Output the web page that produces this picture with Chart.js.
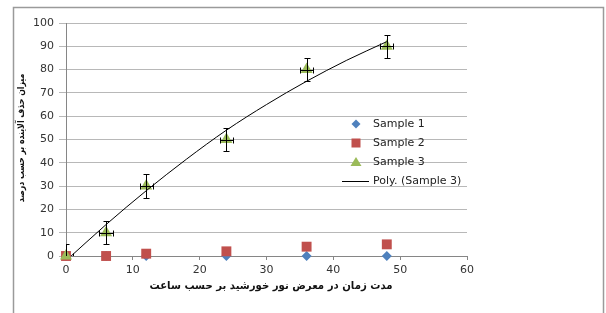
<!DOCTYPE html>
<html>
<head>
<meta charset="utf-8">
<script src="https://cdn.jsdelivr.net/npm/chart.js@4.4.0/dist/chart.umd.min.js"></script>
<style>
  html, body { margin: 0; padding: 0; background: #ffffff; }
  #wrap { width: 606px; height: 313px; position: relative; }
</style>
</head>
<body>
<div id="wrap"><canvas id="c" width="606" height="313"></canvas></div>
<script>
// ---- data ----
const hours      = [0, 6, 12, 24, 36, 48];
const sample1    = [0, 0, 0, 0, 0, 0];
const sample2    = [0, 0, 1, 2, 4, 5];
const sample3    = [0, 10, 30, 50, 80, 90];
const sample3ErrY = [5, 5, 5, 5, 5, 5];
const sample3ErrX = [1, 1, 1, 1, 1, 1];
// polynomial trendline (Sample 3)
const trendX     = [0, 6, 12, 18, 24, 30, 36, 42, 48];
const trendY     = [-2, 13.5, 28, 41.5, 54, 65, 75, 84, 92];
const xTicks     = [0, 10, 20, 30, 40, 50, 60];
const yTicks     = [0, 10, 20, 30, 40, 50, 60, 70, 80, 90, 100];
const seriesNames = ['Sample 1', 'Sample 2', 'Sample 3', 'Poly. (Sample 3)'];
const xTitle = 'مدت زمان در معرض نور خورشید بر حسب ساعت';
const yTitle = 'میزان حذف آلاینده بر حسب درصد';

const toPts = (xs, ys) => xs.map((x, i) => ({ x: x, y: ys[i] }));

const colors = { s1: '#4F81BD', s2: '#C0504D', s3: '#9BBB59' };

const framePlugin = {
  id: 'frame',
  beforeDraw(chart) {
    const ctx = chart.ctx;
    ctx.save();
    ctx.fillStyle = '#ffffff';
    ctx.fillRect(0, 0, chart.width, chart.height);
    ctx.strokeStyle = '#9a9a9a';
    ctx.lineWidth = 1.5;
    ctx.strokeRect(13.5, 7.5, 590, 330);
    ctx.restore();
  }
};

const errorBarPlugin = {
  id: 'errbars',
  afterDatasetsDraw(chart) {
    const ctx = chart.ctx, xs = chart.scales.x, ys = chart.scales.y, a = chart.chartArea;
    ctx.save();
    ctx.beginPath();
    ctx.rect(a.left, a.top, a.right - a.left, a.bottom - a.top);
    ctx.clip();
    ctx.strokeStyle = '#000';
    ctx.lineWidth = 1;
    hours.forEach((h, i) => {
      const px = Math.round(xs.getPixelForValue(h)) + 0.5, py = Math.round(ys.getPixelForValue(sample3[i])) + 0.5;
      const yTop = Math.round(ys.getPixelForValue(sample3[i] + sample3ErrY[i])) + 0.5;
      const yBot = Math.round(ys.getPixelForValue(sample3[i] - sample3ErrY[i])) + 0.5;
      const xL = Math.round(xs.getPixelForValue(h - sample3ErrX[i])) + 0.5;
      const xR = Math.round(xs.getPixelForValue(h + sample3ErrX[i])) + 0.5;
      const cap = 3;
      ctx.beginPath();
      ctx.moveTo(px, yTop); ctx.lineTo(px, yBot);
      ctx.moveTo(px - cap, yTop); ctx.lineTo(px + cap, yTop);
      ctx.moveTo(px - cap, yBot); ctx.lineTo(px + cap, yBot);
      ctx.moveTo(xL, py); ctx.lineTo(xR, py);
      ctx.moveTo(xL, py - cap); ctx.lineTo(xL, py + cap);
      ctx.moveTo(xR, py - cap); ctx.lineTo(xR, py + cap);
      ctx.stroke();
    });
    ctx.restore();
  }
};

const legendAndTitles = {
  id: 'legendTitles',
  afterDraw(chart) {
    const ctx = chart.ctx;
    ctx.save();
    // legend
    const mx = 356, tx = 373, rows = [124, 143, 162, 181];
    ctx.font = '11px "DejaVu Sans"';
    ctx.textBaseline = 'middle';
    ctx.textAlign = 'left';
    // diamond
    ctx.fillStyle = colors.s1;
    ctx.beginPath();
    ctx.moveTo(mx, rows[0] - 4.5); ctx.lineTo(mx + 4.5, rows[0]); ctx.lineTo(mx, rows[0] + 4.5); ctx.lineTo(mx - 4.5, rows[0]);
    ctx.closePath(); ctx.fill();
    // square
    ctx.fillStyle = colors.s2;
    ctx.fillRect(mx - 4.5, rows[1] - 4.5, 9, 9);
    // triangle
    ctx.fillStyle = colors.s3;
    ctx.beginPath();
    ctx.moveTo(mx, rows[2] - 5); ctx.lineTo(mx + 5.5, rows[2] + 4); ctx.lineTo(mx - 5.5, rows[2] + 4);
    ctx.closePath(); ctx.fill();
    // line
    ctx.strokeStyle = '#000'; ctx.lineWidth = 1;
    ctx.beginPath(); ctx.moveTo(342, rows[3] + 0.5); ctx.lineTo(369, rows[3] + 0.5); ctx.stroke();
    ctx.fillStyle = '#222';
    seriesNames.forEach((n, i) => ctx.fillText(n, tx, rows[i]));
    // axis titles
    ctx.fillStyle = '#111';
    ctx.textAlign = 'center';
    ctx.direction = 'rtl';
    ctx.save();
    ctx.translate(271, 286);
    ctx.scale(0.92, 1);
    ctx.font = 'bold 11px "DejaVu Sans"';
    ctx.fillText(xTitle, 0, 0);
    ctx.restore();
    ctx.translate(22, 138);
    ctx.rotate(-Math.PI / 2);
    ctx.scale(0.82, 1);
    ctx.font = 'bold 9.5px "DejaVu Sans"';
    ctx.fillText(yTitle, 0, 0);
    ctx.restore();
  }
};

const pointBase = { showLine: false, clip: false, pointBorderWidth: 0 };

new Chart(document.getElementById('c'), {
  type: 'scatter',
  data: {
    datasets: [
      { label: seriesNames[3], data: toPts(trendX, trendY), showLine: true, borderColor: '#000', borderWidth: 1,
        pointRadius: 0, tension: 0.4, cubicInterpolationMode: 'monotone', order: 0, fill: false },
      Object.assign({ label: seriesNames[2], data: toPts(hours, sample3), pointStyle: 'triangle', pointRadius: 7,
        backgroundColor: colors.s3, borderColor: colors.s3, order: 1 }, pointBase),
      Object.assign({ label: seriesNames[1], data: toPts(hours, sample2), pointStyle: 'rect', pointRadius: 7,
        backgroundColor: colors.s2, borderColor: colors.s2, order: 2 }, pointBase),
      Object.assign({ label: seriesNames[0], data: toPts(hours, sample1), pointStyle: 'rectRot', pointRadius: 5,
        backgroundColor: colors.s1, borderColor: colors.s1, order: 3 }, pointBase)
    ]
  },
  options: {
    responsive: false,
    animation: false,
    events: [],
    layout: { padding: { left: 0, top: 23, right: 139, bottom: 0 } },
    plugins: { legend: { display: false }, tooltip: { enabled: false } },
    scales: {
      x: {
        type: 'linear', min: 0, max: 60,
        afterBuildTicks: s => { s.ticks = xTicks.map(v => ({ value: v })); },
        afterFit: s => { s.height = 57; },
        grid: { drawOnChartArea: false, tickLength: 4, color: '#868686' },
        border: { color: '#868686', width: 1 },
        ticks: { font: { family: 'DejaVu Sans', size: 11 }, color: '#333', padding: 4, maxRotation: 0 }
      },
      y: {
        type: 'linear', min: 0, max: 100,
        afterBuildTicks: s => { s.ticks = yTicks.map(v => ({ value: v })); },
        afterFit: s => { s.width = 66; },
        grid: { color: '#b8b8b8', tickLength: 7 },
        border: { color: '#868686', width: 1 },
        ticks: { font: { family: 'DejaVu Sans', size: 11 }, color: '#333', padding: 5 }
      }
    }
  },
  plugins: [framePlugin, errorBarPlugin, legendAndTitles]
});
</script>
</body>
</html>
